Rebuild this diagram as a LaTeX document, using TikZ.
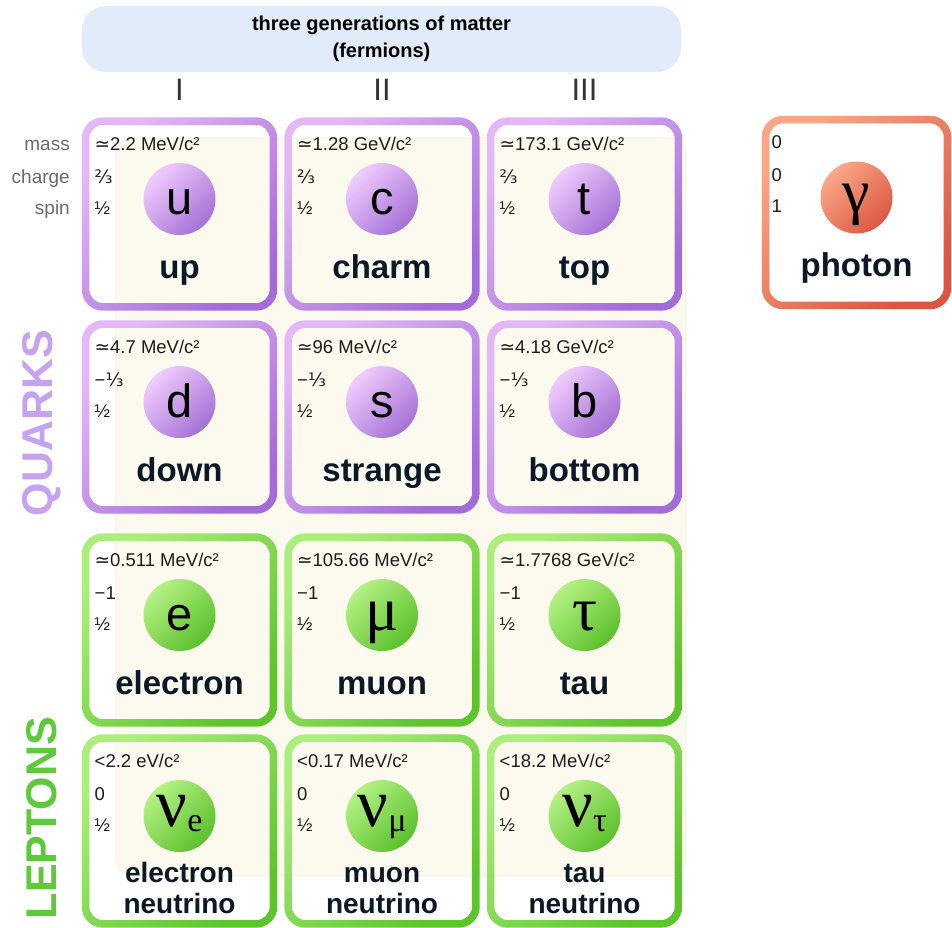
\documentclass[tikz,border=0pt]{standalone}
\usepackage{fontspec}
\setmainfont{Liberation Sans}
\newfontfamily\djv{DejaVu Sans}
\newfontfamily\gk{Liberation Serif}
\definecolor{qRA}{HTML}{E4B8F8}
\definecolor{qRB}{HTML}{A36CD8}
\definecolor{qBA}{HTML}{F0CCFD}
\definecolor{qBB}{HTML}{A571D6}
\definecolor{lRA}{HTML}{ACEE7C}
\definecolor{lRB}{HTML}{5EC42C}
\definecolor{lBA}{HTML}{B4F284}
\definecolor{lBB}{HTML}{5CC02C}
\definecolor{pRA}{HTML}{FAA686}
\definecolor{pRB}{HTML}{DA5640}
\definecolor{pBA}{HTML}{FBA888}
\definecolor{pBB}{HTML}{DB5842}
\definecolor{cream}{HTML}{FCFAEF}
\definecolor{creamline}{HTML}{F3ECDD}
\definecolor{hdrfill}{HTML}{E1EBFA}
\definecolor{namecol}{HTML}{0B1828}
\definecolor{valcol}{HTML}{1C1C1C}
\definecolor{graylab}{HTML}{6B6B6B}
\definecolor{gencol}{HTML}{333333}
\definecolor{quarkcol}{HTML}{C7A2F0}
\definecolor{leptoncol}{HTML}{5DC93B}
\newcommand\aeq{{\djv ≃}}
\newcommand\ttw{{\djv ⅔}}
\newcommand\oth{{\djv ⅓}}
\newcommand\cardw{195pt}
\newcommand\twoline[2]{\raisebox{13pt}{\fontsize{28}{31}\selectfont\begin{tabular}[t]{@{}c@{}}#1\\#2\end{tabular}}}
\newcommand\gsym[1]{{\gk\fontsize{62}{62}\selectfont #1}}
\newcommand\nusym[1]{\raisebox{5pt}{\gk\fontsize{68}{68}\selectfont ν\raisebox{-5pt}{\fontsize{34}{34}\selectfont #1}}}
% #1 family, #2 name, #3 cx, #4 cy, #5 mass, #6 charge, #7 spin, #8 symbol, #9 label
\newcommand\particle[9]{%
  \node[card] (#2) at (#3,#4) {};
  \shade[even odd rule, top color=#1RA, bottom color=#1RB, shading angle=45]
    [rounded corners=21pt] (#2.north west) rectangle (#2.south east)
    [rounded corners=14pt] ([shift={(7.5,7.5)}]#2.north west) rectangle ([shift={(-7.5,-7.5)}]#2.south east);
  \node[pball, top color=#1BA, bottom color=#1BB, shading angle=45] (#2ball) at (#3,#4-15) {};
  \node[psym, anchor=base] (#2sym) at (#3,#4) {#8};
  \node[pval, anchor=base west] (#2m) at (#3-85,#4-64) {#5};
  \node[pval, anchor=base west] (#2q) at (#3-85,#4-31) {#6};
  \node[pval, anchor=base west] (#2s) at (#3-85,#4) {#7};
  \node[plabel, anchor=base] (#2n) at (#3,#4+64) {#9};
}
\begin{document}
\begin{tikzpicture}[x=1pt,y=-1pt,
  card/.style={rectangle, minimum width=\cardw, minimum height=193pt, inner sep=0pt},
  pball/.style={circle, minimum size=72pt, inner sep=0pt},
  psym/.style={font=\fontsize{47}{47}\selectfont, text=black, inner sep=0pt},
  pval/.style={font=\fontsize{18.5}{18.5}\selectfont, text=valcol, inner sep=0pt},
  plabel/.style={font=\bfseries\fontsize{33}{33}\selectfont, text=namecol, inner sep=0pt},
  sidelab/.style={font=\fontsize{19}{19}\selectfont, text=graylab, inner sep=0pt, anchor=base east},
  genlab/.style={font=\fontsize{31}{31}\selectfont, text=gencol, inner sep=0pt},
  grouplab/.style={font=\bfseries\fontsize{43}{43}\selectfont, rotate=90, inner sep=0pt},
  hdr/.style={fill=hdrfill, rounded corners=24pt, minimum width=599pt, minimum height=66pt,
    align=center, font=\bfseries\fontsize{20}{27}\selectfont, text=black, inner sep=0pt}]
\useasboundingbox (0,0) rectangle (952,927);
\fill[white] (0,0) rectangle (952,927);
% cream background of the chart
\filldraw[fill=cream, draw=creamline, line width=0.6pt, rounded corners=16pt] (116,138) rectangle (686,876);
% header
\node[hdr] (header) at (381.5,39) {three generations of matter\\(fermions)};
\node[genlab] (g1) at (179.5,90) {I};
\node[genlab] (g2) at (382,90) {II};
\node[genlab] (g3) at (584.5,90) {III};
% side labels
\node[sidelab] (lmass) at (70,150) {mass};
\node[sidelab] (lcharge) at (70,183) {charge};
\node[sidelab] (lspin) at (70,214) {spin};
\node[grouplab, text=quarkcol] (quarks) at (42,423) {QUARKS};
\node[grouplab, text=leptoncol] (leptons) at (42,818) {LEPTONS};
% quarks
\particle{q}{up}{179.5}{214}{\aeq2.2 MeV/c²}{\ttw}{½}{u}{up}
\particle{q}{charm}{382}{214}{\aeq1.28 GeV/c²}{\ttw}{½}{c}{charm}
\particle{q}{top}{584.5}{214}{\aeq173.1 GeV/c²}{\ttw}{½}{t}{top}
\particle{q}{down}{179.5}{417}{\aeq4.7 MeV/c²}{−\oth}{½}{d}{down}
\particle{q}{strange}{382}{417}{\aeq96 MeV/c²}{−\oth}{½}{s}{strange}
\particle{q}{bottom}{584.5}{417}{\aeq4.18 GeV/c²}{−\oth}{½}{b}{bottom}
% leptons
\particle{l}{electron}{179.5}{630}{\aeq0.511 MeV/c²}{−1}{½}{e}{electron}
\particle{l}{muon}{382}{630}{\aeq105.66 MeV/c²}{−1}{½}{\gsym{μ}}{muon}
\particle{l}{tau}{584.5}{630}{\aeq1.7768 GeV/c²}{−1}{½}{\gsym{τ}}{tau}
\particle{l}{nue}{179.5}{831}{<2.2 eV/c²}{0}{½}{\nusym{e}}{\twoline{electron}{neutrino}}
\particle{l}{numu}{382}{831}{<0.17 MeV/c²}{0}{½}{\nusym{μ}}{\twoline{muon}{neutrino}}
\particle{l}{nutau}{584.5}{831}{<18.2 MeV/c²}{0}{½}{\nusym{τ}}{\twoline{tau}{neutrino}}
% photon
\renewcommand\cardw{189pt}
\particle{p}{photon}{856.5}{212.5}{0}{0}{1}{\gsym{γ}}{photon}
\end{tikzpicture}
\end{document}
